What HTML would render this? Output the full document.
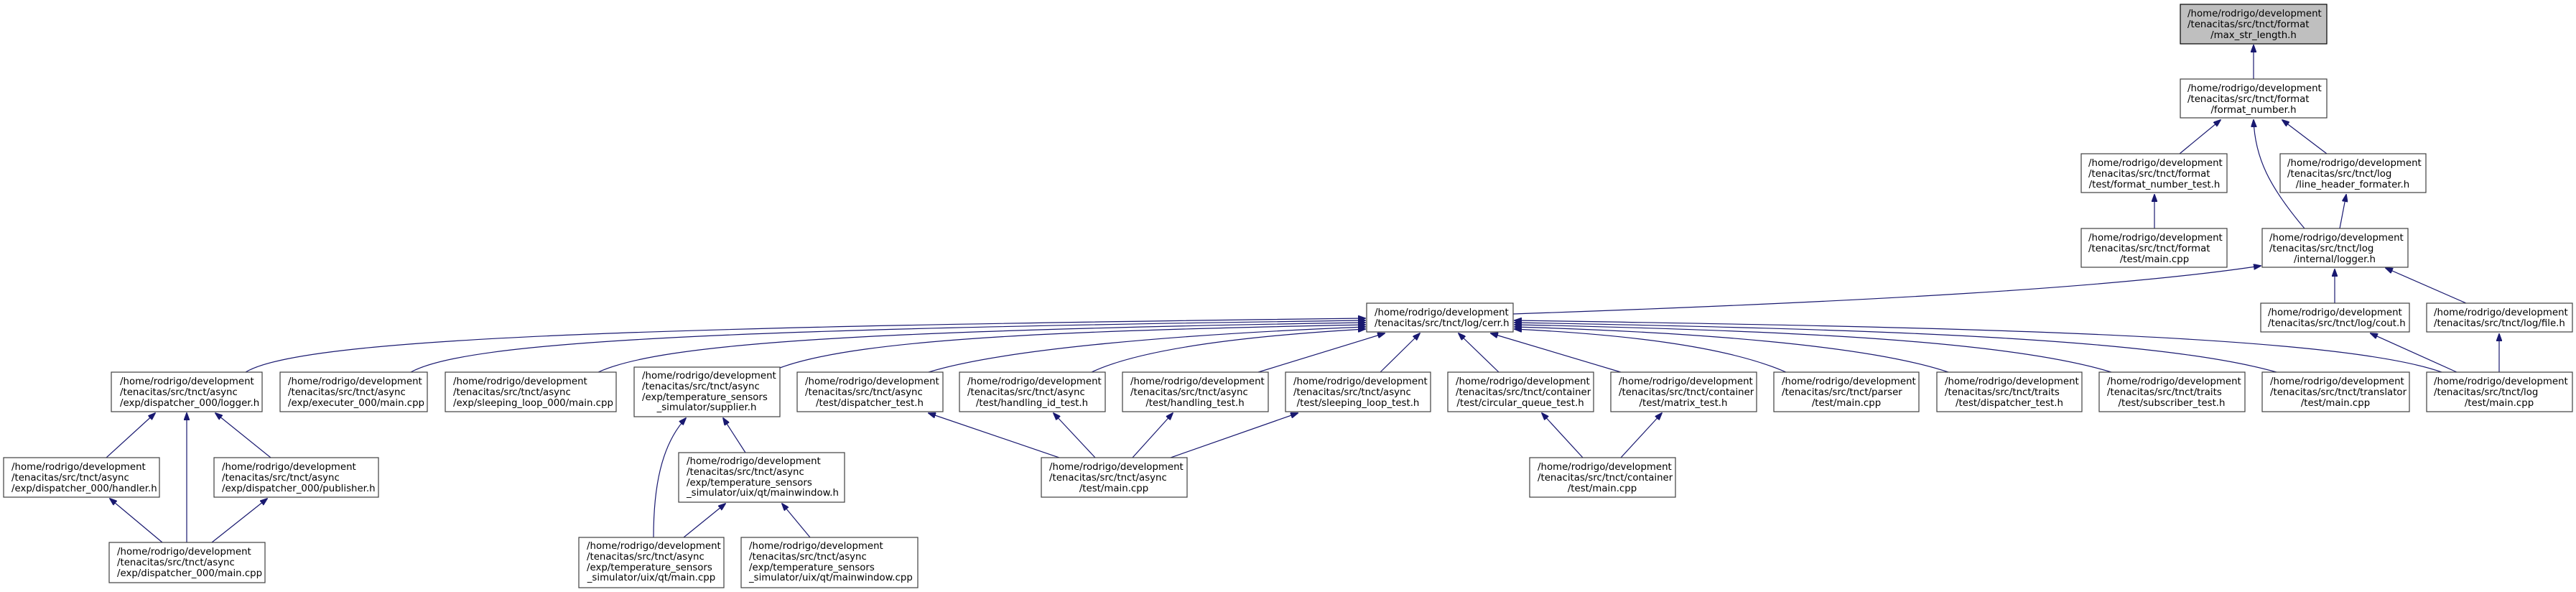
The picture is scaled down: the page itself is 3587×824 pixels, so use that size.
<!DOCTYPE html>
<html><head><meta charset="utf-8"><style>
html,body{margin:0;padding:0;background:#fff;width:3587px;height:824px;overflow:hidden}
svg text{font-family:"DejaVu Sans","Liberation Sans",sans-serif;font-size:13.33px;fill:#000}
.b{fill:#fff;stroke:#404040;stroke-width:1.2}
.e{fill:none;stroke:#191970;stroke-width:1.2;marker-end:url(#a)}
</style></head><body>
<svg width="3587" height="824" viewBox="0 0 3587 824" xmlns="http://www.w3.org/2000/svg">
<defs><marker id="a" markerWidth="11" markerHeight="8" refX="10" refY="4" orient="auto" markerUnits="userSpaceOnUse"><path d="M0,0 L11,4 L0,8 z" fill="#191970" stroke="#191970"/></marker></defs>

<!-- edges -->
<path class="e" d="M3138,110 L3138,63"/>
<path class="e" d="M3035,214 L3092,167"/>
<path class="e" d="M3240,214 L3178,167"/>
<path class="e" d="M3209,318 C3160,260 3140,220 3138,167"/>
<path class="e" d="M3000,318 L3000,271"/>
<path class="e" d="M3258,318 L3267,271"/>
<path class="e" d="M2107,437 C2600,420 2950,400 3148,370"/>
<path class="e" d="M3251,422 L3251,375"/>
<path class="e" d="M3434,422 L3322,373"/>
<path class="e" d="M3421,518 L3301,464"/>
<path class="e" d="M3480,518 L3480,465"/>

<!-- cerr left side -->
<path class="e" d="M342,518 C420,470 900,455 1901,443"/>
<path class="e" d="M572,518 C650,475 1000,458 1901,446"/>
<path class="e" d="M833,518 C920,478 1200,460 1901,449"/>
<path class="e" d="M1086,512 C1200,470 1500,460 1901,452"/>
<path class="e" d="M1293,518 C1400,485 1650,465 1901,455"/>
<path class="e" d="M1520,518 C1600,480 1780,465 1901,458"/>
<path class="e" d="M1752,518 L1928,464"/>
<path class="e" d="M1922,518 L1977,464"/>
<path class="e" d="M2087,518 L2031,464"/>
<path class="e" d="M2257,518 L2076,464"/>
<!-- cerr right side -->
<path class="e" d="M2487,518 C2400,480 2250,465 2109,458"/>
<path class="e" d="M2713,518 C2600,480 2350,462 2109,455"/>
<path class="e" d="M2940,518 C2800,475 2500,460 2109,452"/>
<path class="e" d="M3170,518 C3000,470 2600,458 2109,449"/>
<path class="e" d="M3400,518 C3250,465 2700,455 2109,446"/>

<!-- lower edges -->
<path class="e" d="M148,637 L216,575"/>
<path class="e" d="M260,755 L260,575"/>
<path class="e" d="M377,637 L300,575"/>
<path class="e" d="M226,755 L153,694"/>
<path class="e" d="M295,755 L372,694"/>
<path class="e" d="M910,748 C910,680 920,620 955,582"/>
<path class="e" d="M1038,630 L1007,582"/>
<path class="e" d="M952,748 L1010,701"/>
<path class="e" d="M1128,748 L1089,701"/>
<path class="e" d="M1475,637 L1293,575"/>
<path class="e" d="M1525,637 L1467,575"/>
<path class="e" d="M1577,637 L1633,575"/>
<path class="e" d="M1630,637 L1807,575"/>
<path class="e" d="M2204,637 L2147,575"/>
<path class="e" d="M2257,637 L2314,575"/>

<!-- nodes -->
<rect x="3036" y="6" width="204" height="55" style="fill:#bfbfbf;stroke:#000;stroke-width:1.2"/>
<text x="3046" y="23">/home/rodrigo/development</text><text x="3046" y="38">/tenacitas/src/tnct/format</text><text x="3138" y="53" text-anchor="middle">/max_str_length.h</text>

<rect class="b" x="3036" y="110" width="204" height="54"/>
<text x="3046" y="127">/home/rodrigo/development</text><text x="3046" y="142">/tenacitas/src/tnct/format</text><text x="3138" y="157" text-anchor="middle">/format_number.h</text>

<rect class="b" x="2898" y="214" width="203" height="54"/>
<text x="2908" y="231">/home/rodrigo/development</text><text x="2908" y="246">/tenacitas/src/tnct/format</text><text x="3000" y="261" text-anchor="middle">/test/format_number_test.h</text>

<rect class="b" x="3175" y="214" width="203" height="54"/>
<text x="3185" y="231">/home/rodrigo/development</text><text x="3185" y="246">/tenacitas/src/tnct/log</text><text x="3276" y="261" text-anchor="middle">/line_header_formater.h</text>

<rect class="b" x="2898" y="318" width="203" height="54"/>
<text x="2908" y="335">/home/rodrigo/development</text><text x="2908" y="350">/tenacitas/src/tnct/format</text><text x="3000" y="365" text-anchor="middle">/test/main.cpp</text>

<rect class="b" x="3150" y="318" width="203" height="54"/>
<text x="3160" y="335">/home/rodrigo/development</text><text x="3160" y="350">/tenacitas/src/tnct/log</text><text x="3251" y="365" text-anchor="middle">/internal/logger.h</text>

<rect class="b" x="1903" y="422" width="204" height="40"/>
<text x="1914" y="439">/home/rodrigo/development</text><text x="1914" y="454">/tenacitas/src/tnct/log/cerr.h</text>

<rect class="b" x="3148" y="422" width="207" height="40"/>
<text x="3158" y="439">/home/rodrigo/development</text><text x="3158" y="454">/tenacitas/src/tnct/log/cout.h</text>

<rect class="b" x="3379" y="422" width="203" height="40"/>
<text x="3389" y="439">/home/rodrigo/development</text><text x="3389" y="454">/tenacitas/src/tnct/log/file.h</text>

<!-- row 518 -->
<rect class="b" x="155" y="518" width="210" height="55"/>
<text x="167" y="535">/home/rodrigo/development</text><text x="167" y="550">/tenacitas/src/tnct/async</text><text x="167" y="565">/exp/dispatcher_000/logger.h</text>

<rect class="b" x="390" y="518" width="205" height="55"/>
<text x="401" y="535">/home/rodrigo/development</text><text x="401" y="550">/tenacitas/src/tnct/async</text><text x="401" y="565">/exp/executer_000/main.cpp</text>

<rect class="b" x="620" y="518" width="238" height="55"/>
<text x="631" y="535">/home/rodrigo/development</text><text x="631" y="550">/tenacitas/src/tnct/async</text><text x="631" y="565">/exp/sleeping_loop_000/main.cpp</text>

<rect class="b" x="883" y="511" width="203" height="69"/>
<text x="894" y="527">/home/rodrigo/development</text><text x="894" y="542">/tenacitas/src/tnct/async</text><text x="894" y="557">/exp/temperature_sensors</text><text x="984" y="571" text-anchor="middle">_simulator/supplier.h</text>

<rect class="b" x="1110" y="518" width="203" height="55"/>
<text x="1121" y="535">/home/rodrigo/development</text><text x="1121" y="550">/tenacitas/src/tnct/async</text><text x="1211" y="565" text-anchor="middle">/test/dispatcher_test.h</text>

<rect class="b" x="1336" y="518" width="203" height="55"/>
<text x="1347" y="535">/home/rodrigo/development</text><text x="1347" y="550">/tenacitas/src/tnct/async</text><text x="1437" y="565" text-anchor="middle">/test/handling_id_test.h</text>

<rect class="b" x="1563" y="518" width="203" height="55"/>
<text x="1574" y="535">/home/rodrigo/development</text><text x="1574" y="550">/tenacitas/src/tnct/async</text><text x="1664" y="565" text-anchor="middle">/test/handling_test.h</text>

<rect class="b" x="1790" y="518" width="202" height="55"/>
<text x="1801" y="535">/home/rodrigo/development</text><text x="1801" y="550">/tenacitas/src/tnct/async</text><text x="1891" y="565" text-anchor="middle">/test/sleeping_loop_test.h</text>

<rect class="b" x="2016" y="518" width="203" height="55"/>
<text x="2027" y="535">/home/rodrigo/development</text><text x="2027" y="550">/tenacitas/src/tnct/container</text><text x="2117" y="565" text-anchor="middle">/test/circular_queue_test.h</text>

<rect class="b" x="2243" y="518" width="203" height="55"/>
<text x="2254" y="535">/home/rodrigo/development</text><text x="2254" y="550">/tenacitas/src/tnct/container</text><text x="2344" y="565" text-anchor="middle">/test/matrix_test.h</text>

<rect class="b" x="2470" y="518" width="202" height="55"/>
<text x="2481" y="535">/home/rodrigo/development</text><text x="2481" y="550">/tenacitas/src/tnct/parser</text><text x="2571" y="565" text-anchor="middle">/test/main.cpp</text>

<rect class="b" x="2697" y="518" width="202" height="55"/>
<text x="2708" y="535">/home/rodrigo/development</text><text x="2708" y="550">/tenacitas/src/tnct/traits</text><text x="2798" y="565" text-anchor="middle">/test/dispatcher_test.h</text>

<rect class="b" x="2923" y="518" width="203" height="55"/>
<text x="2934" y="535">/home/rodrigo/development</text><text x="2934" y="550">/tenacitas/src/tnct/traits</text><text x="3024" y="565" text-anchor="middle">/test/subscriber_test.h</text>

<rect class="b" x="3150" y="518" width="205" height="55"/>
<text x="3161" y="535">/home/rodrigo/development</text><text x="3161" y="550">/tenacitas/src/tnct/translator</text><text x="3252" y="565" text-anchor="middle">/test/main.cpp</text>

<rect class="b" x="3379" y="518" width="203" height="55"/>
<text x="3389" y="535">/home/rodrigo/development</text><text x="3389" y="550">/tenacitas/src/tnct/log</text><text x="3480" y="565" text-anchor="middle">/test/main.cpp</text>

<!-- row 637 -->
<rect class="b" x="5" y="637" width="217" height="55"/>
<text x="16" y="654">/home/rodrigo/development</text><text x="16" y="669">/tenacitas/src/tnct/async</text><text x="16" y="684">/exp/dispatcher_000/handler.h</text>

<rect class="b" x="298" y="637" width="229" height="55"/>
<text x="309" y="654">/home/rodrigo/development</text><text x="309" y="669">/tenacitas/src/tnct/async</text><text x="309" y="684">/exp/dispatcher_000/publisher.h</text>

<rect class="b" x="945" y="630" width="231" height="69"/>
<text x="956" y="646">/home/rodrigo/development</text><text x="956" y="661">/tenacitas/src/tnct/async</text><text x="956" y="676">/exp/temperature_sensors</text><text x="956" y="690">_simulator/uix/qt/mainwindow.h</text>

<rect class="b" x="1450" y="637" width="203" height="55"/>
<text x="1461" y="654">/home/rodrigo/development</text><text x="1461" y="669">/tenacitas/src/tnct/async</text><text x="1551" y="684" text-anchor="middle">/test/main.cpp</text>

<rect class="b" x="2130" y="637" width="203" height="55"/>
<text x="2141" y="654">/home/rodrigo/development</text><text x="2141" y="669">/tenacitas/src/tnct/container</text><text x="2231" y="684" text-anchor="middle">/test/main.cpp</text>

<!-- bottom row -->
<rect class="b" x="152" y="755" width="217" height="56"/>
<text x="163" y="772">/home/rodrigo/development</text><text x="163" y="787">/tenacitas/src/tnct/async</text><text x="163" y="802">/exp/dispatcher_000/main.cpp</text>

<rect class="b" x="806" y="748" width="202" height="70"/>
<text x="817" y="764">/home/rodrigo/development</text><text x="817" y="779">/tenacitas/src/tnct/async</text><text x="817" y="794">/exp/temperature_sensors</text><text x="907" y="808" text-anchor="middle">_simulator/uix/qt/main.cpp</text>

<rect class="b" x="1032" y="748" width="246" height="70"/>
<text x="1043" y="764">/home/rodrigo/development</text><text x="1043" y="779">/tenacitas/src/tnct/async</text><text x="1043" y="794">/exp/temperature_sensors</text><text x="1043" y="808">_simulator/uix/qt/mainwindow.cpp</text>
</svg>
</body></html>
